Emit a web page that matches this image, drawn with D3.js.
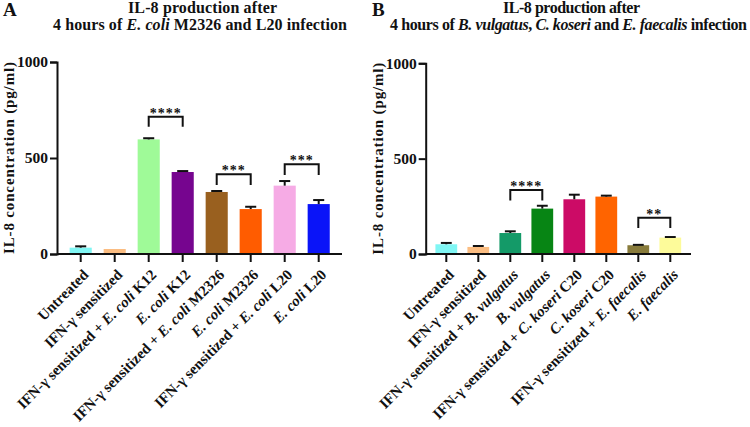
<!DOCTYPE html>
<html>
<head>
<meta charset="utf-8">
<script src="https://cdn.jsdelivr.net/npm/d3@7"></script>
<style>
  body { margin: 0; background: #fff; }
  text { font-family: "Liberation Serif", "Times New Roman", serif; font-weight: bold; fill: #111; }
</style>
</head>
<body>
<div id="chart"></div>
<script>
// IL-8 production, two panels (A: E. coli strains, B: other species)

const labelsA = [
  'Untreated',
  'IFN-γ sensitized',
  'IFN-γ sensitized + <i>E. coli</i> K12',
  '<i>E. coli</i> K12',
  'IFN-γ sensitized + <i>E. coli</i> M2326',
  '<i>E. coli</i> M2326',
  'IFN-γ sensitized + <i>E. coli</i> L20',
  '<i>E. coli</i> L20'
];
const meansA = [33, 26, 597, 427, 323, 234, 356, 260];
const upperA = [40, 26, 603, 432, 328, 246, 380, 281];
const sigA = [
  [2, 3, 715, 663, '****'],
  [4, 5, 415, 359, '***'],
  [6, 7, 467, 411, '***']
];

const labelsB = [
  'Untreated',
  'IFN-γ sensitized',
  'IFN-γ sensitized + <i>B. vulgatus</i>',
  '<i>B. vulgatus</i>',
  'IFN-γ sensitized + <i>C. koseri</i> C20',
  '<i>C. koseri</i> C20',
  'IFN-γ sensitized + <i>E. faecalis</i>',
  '<i>E. faecalis</i>'
];
const meansB = [51, 37, 110, 238, 287, 301, 46, 86];
const upperB = [58, 42, 119, 253, 311, 306, 48, 89];
const sigB = [
  [2, 3, 336, 281, '****'],
  [6, 7, 190, 136, '**']
];

const titleA = ['IL-8 production after', '4 hours of <i>E. coli</i> M2326 and L20 infection'];
const titleB = ['IL-8 production after', '4 hours of <i>B. vulgatus</i>, <i>C. koseri</i> and <i>E. faecalis</i> infection'];
const yTicks = [0, 500, 1000];

const colorsA = ['#80f6f4', '#fbbd82', '#9ffa98', '#76058f', '#99601f', '#ff5c00', '#f6abe5', '#0a14f8'];
const colorsB = ['#80f6f4', '#fbbd82', '#149a68', '#078514', '#cc0b66', '#ff6400', '#887b3b', '#fdfb9a'];

const svg = d3.select('#chart').append('svg')
  .attr('width', 750)
  .attr('height', 427);

// write "<i>..</i>" markup as tspans
function richText(sel, str) {
  str.split(/(<i>.*?<\/i>)/).filter(s => s.length).forEach(part => {
    const it = part.startsWith('<i>');
    sel.append('tspan')
      .attr('font-style', it ? 'italic' : null)
      .text(it ? part.slice(3, -4) : part);
  });
}

function panel(opt) {
  const g = svg.append('g');

  const x = d3.scaleBand()
    .domain(opt.labels)
    .range(opt.xr)
    .paddingInner(opt.pad)
    .paddingOuter(opt.pad / 2);

  const y = d3.scaleLinear()
    .domain([0, 1000])
    .range(opt.yr);

  // bars
  g.selectAll('.bar')
    .data(opt.means)
    .join('rect')
    .attr('class', 'bar')
    .attr('x', (d, i) => x(opt.labels[i]))
    .attr('y', d => y(d))
    .attr('width', x.bandwidth())
    .attr('height', d => y(0) - y(d))
    .attr('fill', (d, i) => opt.colors[i]);

  // error bars (upper only)
  const capW = x.bandwidth() * 0.5;
  opt.upper.forEach((u, i) => {
    const cx = x(opt.labels[i]) + x.bandwidth() / 2;
    if (u - opt.means[i] > 2) {
      g.append('line')
        .attr('x1', cx).attr('x2', cx)
        .attr('y1', y(opt.means[i])).attr('y2', y(u))
        .attr('stroke', '#111').attr('stroke-width', 2);
    }
    if (u > opt.means[i]) {
      g.append('line')
        .attr('x1', cx - capW / 2).attr('x2', cx + capW / 2)
        .attr('y1', y(u)).attr('y2', y(u))
        .attr('stroke', '#111').attr('stroke-width', 2);
    }
  });

  // axes
  const yAxis = g.append('g')
    .attr('transform', `translate(${opt.axisX},0)`)
    .call(d3.axisLeft(y).tickValues(yTicks).tickFormat(d3.format('d')).tickSize(7).tickPadding(2));
  yAxis.select('.domain').attr('stroke-width', 2).attr('stroke', '#111');
  yAxis.selectAll('.tick line').attr('stroke-width', 2).attr('stroke', '#111');
  yAxis.selectAll('.tick text')
    .attr('font-size', '15.5px')
    .attr('fill', '#111');

  const xAxis = g.append('g')
    .attr('transform', `translate(0,${y(0)})`);
  xAxis.append('line')
    .attr('x1', opt.axisX).attr('x2', opt.axisEnd)
    .attr('stroke', '#111').attr('stroke-width', 2);
  opt.labels.forEach((lab, i) => {
    const cx = x(lab) + x.bandwidth() / 2;
    xAxis.append('line')
      .attr('x1', cx).attr('x2', cx)
      .attr('y1', 0).attr('y2', 8)
      .attr('stroke', '#111').attr('stroke-width', 2);
    const t = xAxis.append('text')
      .attr('transform', `translate(${cx + 5},${18}) rotate(-45)`)
      .attr('text-anchor', 'end')
      .attr('dy', '0.35em')
      .attr('font-size', '15px');
    richText(t, lab);
  });

  // y label
  g.append('text')
    .attr('transform', `translate(${opt.ylabX},${(opt.yr[0] + opt.yr[1]) / 2}) rotate(-90)`)
    .attr('text-anchor', 'middle')
    .attr('font-size', '15px')
    .attr('textLength', 192)
    .attr('lengthAdjust', 'spacing')
    .text('IL-8 concentration (pg/ml)');

  // significance brackets
  opt.sig.forEach(([a, b, top, bot, stars]) => {
    const x1 = x(opt.labels[a]) + x.bandwidth() / 2;
    const x2 = x(opt.labels[b]) + x.bandwidth() / 2;
    g.append('path')
      .attr('d', `M${x1},${y(bot)}V${y(top)}H${x2}V${y(bot)}`)
      .attr('fill', 'none')
      .attr('stroke', '#111')
      .attr('stroke-width', 2);
    g.append('text')
      .attr('x', (x1 + x2) / 2)
      .attr('y', y(top) + 1)
      .attr('text-anchor', 'middle')
      .attr('font-size', '14px')
      .attr('letter-spacing', '1px')
      .text(stars);
  });

  // title, each line stretched to the width seen in the figure
  opt.title.forEach((line, i) => {
    const [x0, w] = opt.titleSpan[i];
    const t = g.append('text')
      .attr('x', x0)
      .attr('y', 12.7 + i * 17.5)
      .attr('font-size', '16px')
      .attr('textLength', w)
      .attr('lengthAdjust', 'spacing');
    richText(t, line);
  });

  g.append('text')
    .attr('x', opt.letterX)
    .attr('y', 16)
    .attr('font-size', '19px')
    .text(opt.letter);
}

panel({
  labels: labelsA, means: meansA, upper: upperA, sig: sigA, colors: colorsA,
  title: titleA, letter: 'A', letterX: 3,
  titleSpan: [[128, 149], [53, 294]],
  xr: [63.7, 335.7], pad: 0.35, yr: [254, 62],
  axisX: 57, axisEnd: 342, ylabX: 13.5
});

panel({
  labels: labelsB, means: meansB, upper: upperB, sig: sigB, colors: colorsB,
  title: titleB, letter: 'B', letterX: 372,
  titleSpan: [[503, 137], [390, 357]],
  xr: [430.3, 686.3], pad: 0.32, yr: [254, 63.3],
  axisX: 425.7, axisEnd: 691, ylabX: 383
});
</script>
</body>
</html>
